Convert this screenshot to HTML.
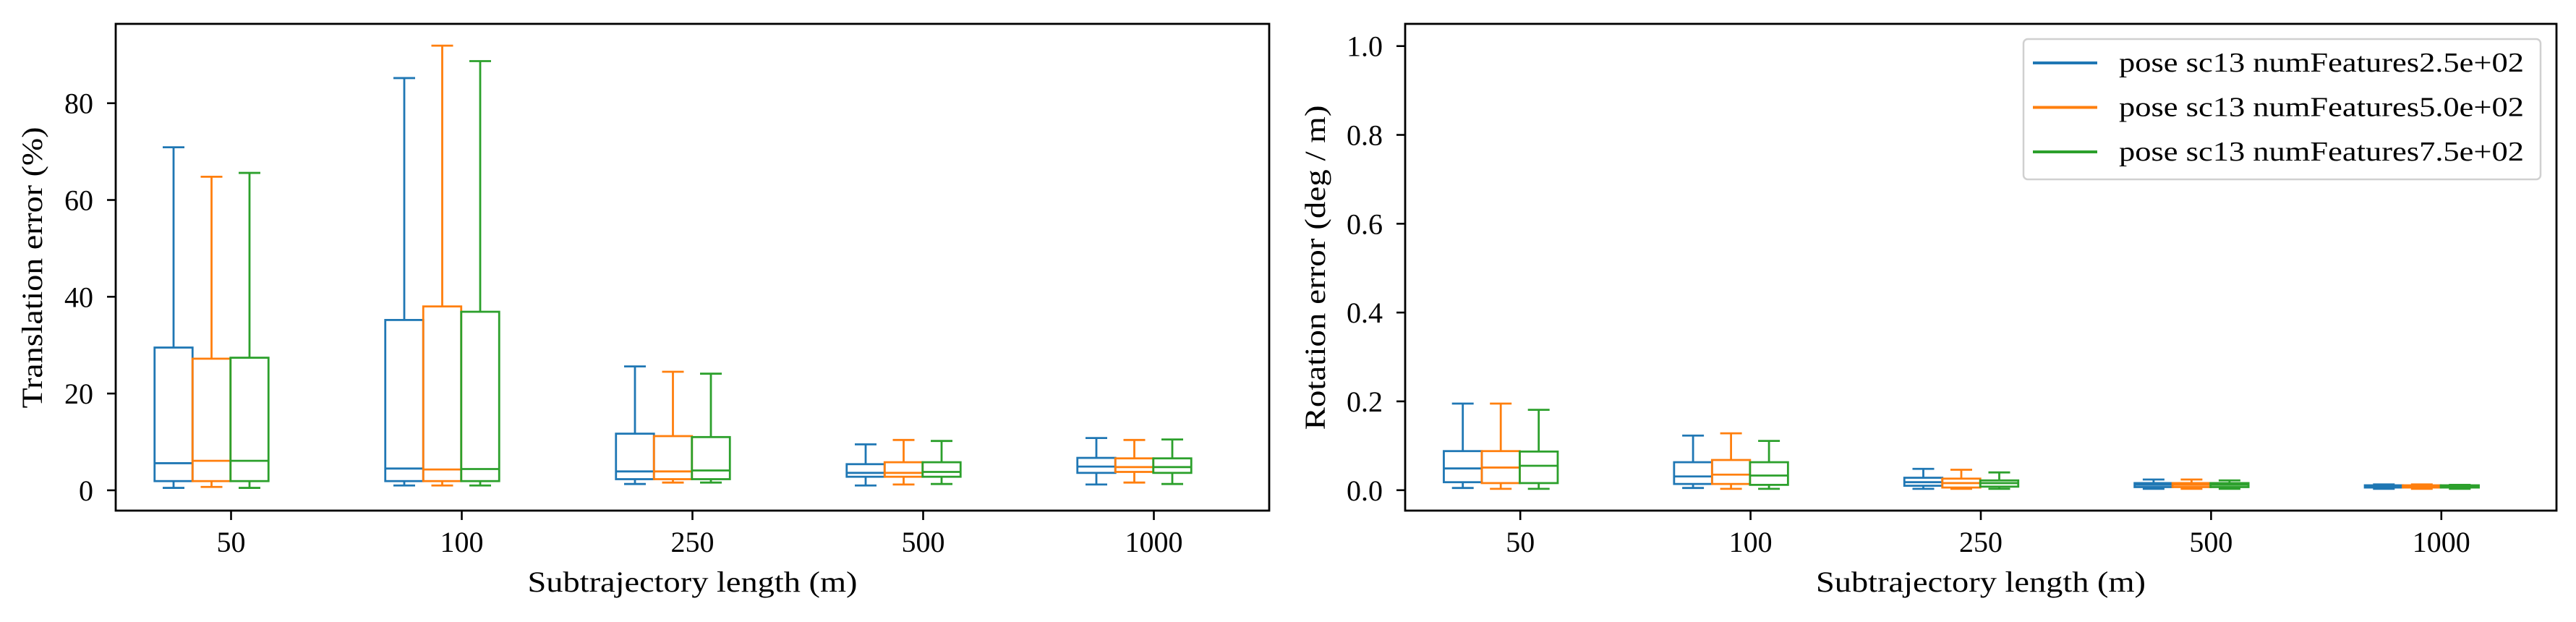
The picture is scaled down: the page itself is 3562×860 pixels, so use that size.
<!DOCTYPE html>
<html><head><meta charset="utf-8">
<style>
html,body{margin:0;padding:0;background:#fff;}
svg{display:block;font-family:"Liberation Serif",serif;}
</style></head>
<body>
<svg id="chart" width="3562" height="860" viewBox="0 0 3562 860" xmlns="http://www.w3.org/2000/svg"></svg>
<script>
// ===== data =====
const categories = ["50","100","250","500","1000"];
const seriesNames = ["pose sc13 numFeatures2.5e+02","pose sc13 numFeatures5.0e+02","pose sc13 numFeatures7.5e+02"];
const colors = ["#1f77b4","#ff7f0e","#2ca02c"];
// translation error (%) : [low, q1, median, q3, high] per category
const transS1 = [[0.5,1.9,5.6,29.5,70.9],[1.0,1.9,4.5,35.2,85.2],[1.3,2.3,3.9,11.7,25.6],[1.0,2.8,3.6,5.4,9.5],[1.2,3.6,4.9,6.7,10.8]];
const transS2 = [[0.7,1.9,6.1,27.2,64.8],[1.0,1.9,4.3,38.0,91.9],[1.6,2.3,3.9,11.2,24.5],[1.2,2.8,3.6,5.8,10.4],[1.6,3.8,4.8,6.6,10.4]];
const transS3 = [[0.5,1.9,6.1,27.4,65.6],[1.0,1.9,4.4,36.9,88.7],[1.6,2.3,4.1,11.0,24.1],[1.3,2.8,3.8,5.8,10.2],[1.3,3.6,4.8,6.6,10.5]];
// rotation error (deg/m)
const rotS1 = [[0.005,0.018,0.049,0.088,0.195],[0.005,0.014,0.031,0.063,0.123],[0.003,0.010,0.018,0.028,0.048],[0.003,0.007,0.012,0.016,0.024],[0.003,0.006,0.009,0.011,0.013]];
const rotS2 = [[0.003,0.016,0.051,0.088,0.195],[0.003,0.014,0.035,0.068,0.128],[0.003,0.006,0.016,0.026,0.046],[0.003,0.007,0.012,0.016,0.024],[0.003,0.006,0.009,0.011,0.013]];
const rotS3 = [[0.003,0.016,0.055,0.087,0.181],[0.003,0.012,0.033,0.063,0.111],[0.003,0.008,0.016,0.022,0.040],[0.003,0.007,0.012,0.016,0.022],[0.003,0.006,0.009,0.011,0.012]];
const leftTicks = [0,20,40,60,80];
const rightTicks = [0.0,0.2,0.4,0.6,0.8,1.0];
const rightTickLabels = ["0.0","0.2","0.4","0.6","0.8","1.0"];

const NS="http://www.w3.org/2000/svg";
const svg=document.getElementById('chart');
function mk(tag,attrs,parent){const e=document.createElementNS(NS,tag);for(const k in attrs)e.setAttribute(k,attrs[k]);(parent||svg).appendChild(e);return e;}

function drawPanel(cfg){
  const g=mk('g',{});
  
  
  const {x0,x1,y0,y1,vmin,vmax}=cfg;
  const yS=v=>y1-(v-vmin)/(vmax-vmin)*(y1-y0);
  const step=(x1-x0)/categories.length;
  const xS=i=>x0+step*(i+0.5);
  const bw=52.5, off=52.5, shift=-27;
  cfg.ticks.forEach((t,i)=>{
    const y=yS(t);
    const tk=mk('line',{x1:x0-12,x2:x0,y1:y,y2:y,stroke:'#000','stroke-width':2.6},g);
    
    
    const tx=mk('text',{x:x0-31,y:y+14,'text-anchor':'end','font-size':40},g);
    
    
    tx.textContent=cfg.tickLabels[i];
  });
  categories.forEach((c,i)=>{
    const x=xS(i);
    const tk=mk('line',{x1:x,x2:x,y1:y1,y2:y1+13,stroke:'#000','stroke-width':2.6},g);
    
    
    const tx=mk('text',{x:x,y:y1+57,'text-anchor':'middle','font-size':40},g);
    
    
    tx.textContent=c;
  });
  cfg.series.forEach((ser,s)=>{
    ser.forEach((d,i)=>{
      const cx=xS(i)+(s-1)*off+shift;
      const col=colors[s];
      const bg=mk('g',{stroke:col,'stroke-width':2.8,fill:'none'},g);
      
      
      const [lo,q1,md,q3,hi]=d.map(yS);
      mk('rect',{x:cx-bw/2,y:q3,width:bw,height:Math.max(q1-q3,0.5)},bg);
      mk('line',{x1:cx-bw/2,x2:cx+bw/2,y1:md,y2:md},bg);
      mk('line',{x1:cx,x2:cx,y1:q3,y2:hi},bg);
      mk('line',{x1:cx,x2:cx,y1:q1,y2:lo},bg);
      mk('line',{x1:cx-15,x2:cx+15,y1:hi,y2:hi},bg);
      mk('line',{x1:cx-15,x2:cx+15,y1:lo,y2:lo},bg);
    });
  });
  const fr=mk('rect',{x:x0,y:y0,width:x1-x0,height:y1-y0,fill:'none',stroke:'#000','stroke-width':2.8},g);
  
  
  const xl=mk('text',{x:(x0+x1)/2,y:818,'text-anchor':'middle','font-size':40,textLength:456,lengthAdjust:'spacingAndGlyphs'},g);
  
  
  xl.textContent='Subtrajectory length (m)';
  const yl=mk('text',{x:0,y:0,'text-anchor':'middle','font-size':40,textLength:cfg.ylen,lengthAdjust:'spacingAndGlyphs',transform:`translate(${cfg.ylx},${cfg.ylc}) rotate(-90)`},g);
  
  
  yl.textContent=cfg.ylabel;
}

drawPanel({name:'translation-panel',x0:160,x1:1755,y0:33,y1:706,vmin:-4.2,vmax:96.4,
  ticks:leftTicks,tickLabels:leftTicks.map(String),series:[transS1,transS2,transS3],ylabel:'Translation error (%)',ylx:58,ylc:370,ylen:389});
drawPanel({name:'rotation-panel',x0:1943,x1:3535,y0:33,y1:706,vmin:-0.046,vmax:1.05,
  ticks:rightTicks,tickLabels:rightTickLabels,series:[rotS1,rotS2,rotS3],ylabel:'Rotation error (deg / m)',ylx:1832,ylc:370,ylen:449});

const lg=mk('g',{});


mk('rect',{x:2798,y:54,width:715,height:194,rx:6,fill:'#fff',stroke:'#d0d0d0','stroke-width':2.5},lg);
seriesNames.forEach((n,i)=>{
  const y=87+i*61.5;
  const e=mk('g',{},lg);
  
  
  mk('line',{x1:2811,x2:2900,y1:y,y2:y,stroke:colors[i],'stroke-width':4},e);
  const t=mk('text',{x:2930,y:y+12,'font-size':38,textLength:560,lengthAdjust:'spacingAndGlyphs'},e);
  t.textContent=n;
});
</script>
</body></html>
